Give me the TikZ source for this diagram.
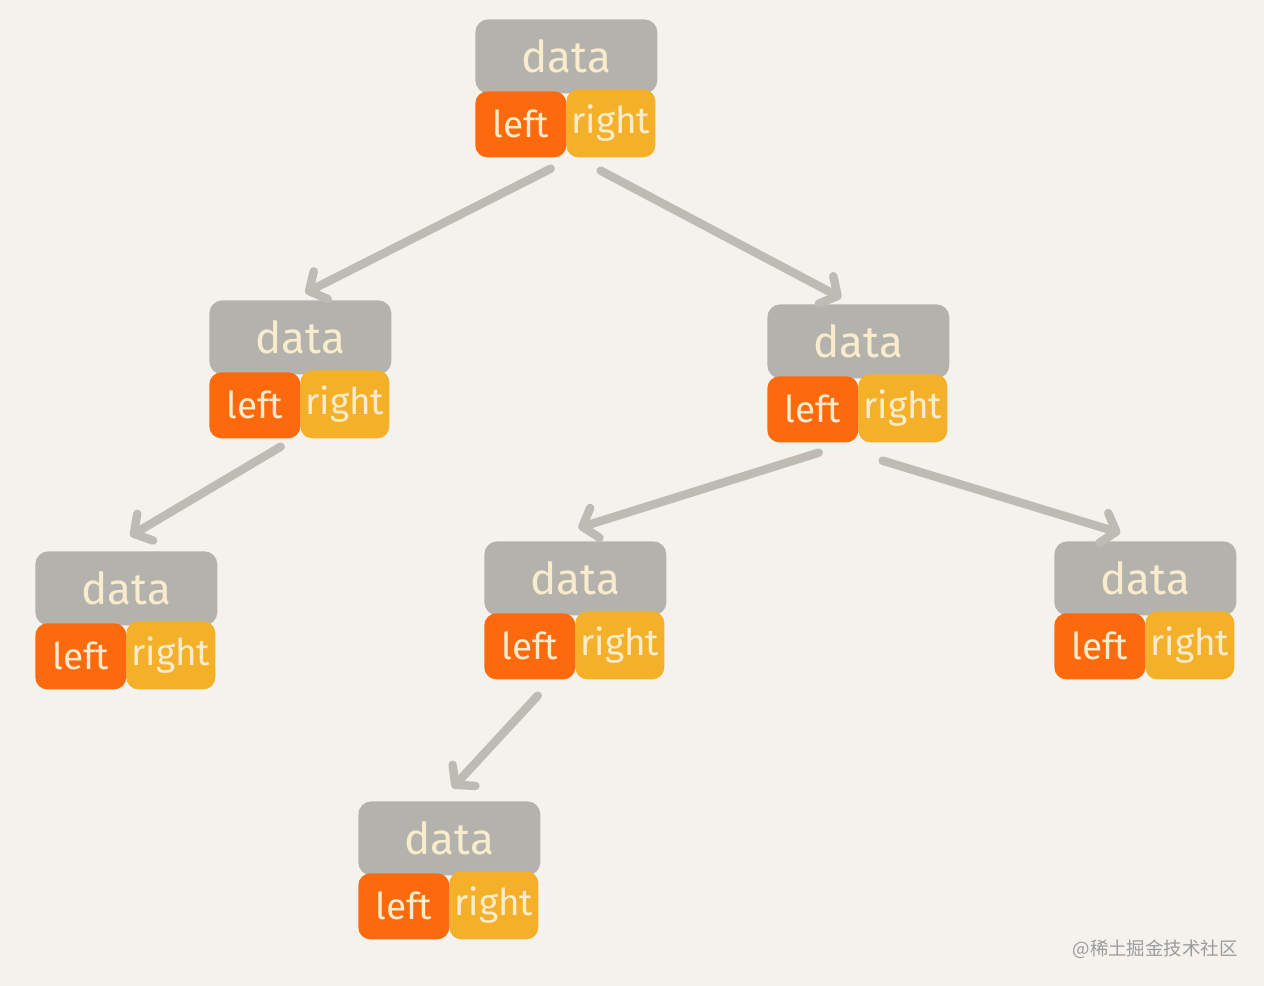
\documentclass[tikz,border=0pt]{standalone}
\usepackage{fontspec}
\setmainfont{Fira Sans}
\newfontfamily\cjk{Noto Sans CJK SC}
\usetikzlibrary{arrows.meta,calc}
\definecolor{bgc}{HTML}{F4F2ED}
\definecolor{datac}{HTML}{B4B2AC}
\definecolor{leftc}{HTML}{FD6A0E}
\definecolor{rightc}{HTML}{F5B02A}
\definecolor{txtc}{HTML}{F8ECCC}
\definecolor{arrc}{HTML}{BDBBB3}
\definecolor{wmc}{HTML}{9C9C9C}
\tikzset{
  databox/.style={fill=datac, rounded corners=0.26cm, minimum width=3.64cm, minimum height=1.48cm, inner sep=0pt, anchor=north west, text=txtc, font=\fontsize{25}{28}\selectfont},
  leftbox/.style={fill=leftc, rounded corners=0.24cm, minimum width=1.82cm, minimum height=1.32cm, inner sep=0pt, anchor=north west, text=txtc, font=\fontsize{21}{24}\selectfont},
  rightbox/.style={fill=rightc, rounded corners=0.24cm, minimum width=1.78cm, minimum height=1.36cm, inner sep=0pt, anchor=north west, text=txtc, font=\fontsize{21}{24}\selectfont},
  link/.style={draw=arrc, line width=0.17cm, line cap=round, -{Straight Barb[length=0.26cm, width=0.62cm, round]}},
}
\newcommand{\treenode}[3]{%
  \node[databox] (#1-d) at (#2,#3) {data};
  \node[rightbox] (#1-r) at ($(#2,#3)+(91,70)$) {right};
  \node[leftbox] (#1-l) at ($(#2,#3)+(0,72)$) {left};
}
\begin{document}
\begin{tikzpicture}[x=0.02cm,y=-0.02cm]
\fill[bgc] (0,0) rectangle (1264,986);
\useasboundingbox (0,0) rectangle (1264,986);
\treenode{r}{475}{19}
\treenode{a}{209}{300}
\treenode{b}{767}{304}
\treenode{c}{35}{551}
\treenode{e}{484}{541}
\treenode{f}{1054}{541}
\treenode{g}{358}{801}
\draw[link] ([shift={(-16,11)}]r-l.south east) -- ([shift={(5,-7)}]a-d.north);
\draw[link] ([shift={(34,13)}]r-l.south east) -- ([shift={(-17,-6)}]b-d.north);
\draw[link] ([shift={(-20,8)}]a-l.south east) -- ([shift={(4,-15)}]c-d.north);
\draw[link] ([shift={(-40,10)}]b-l.south east) -- ([shift={(3,-13)}]e-d.north);
\draw[link] ([shift={(24,18)}]b-l.south east) -- ([shift={(-25,-8)}]f-d.north);
\draw[link] ([shift={(-38,16)}]e-l.south east) -- ([shift={(3,-13)}]g-d.north);
\node[anchor=east, text=wmc, font=\cjk\fontsize{10.5}{12}\selectfont, inner sep=0pt] (wm) at (1238,949) {@稀土掘金技术社区};
\end{tikzpicture}
\end{document}
